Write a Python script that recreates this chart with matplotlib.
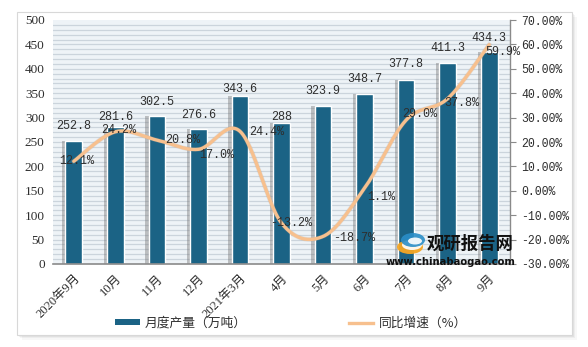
import numpy as np
import matplotlib
matplotlib.use("Agg")
import matplotlib.pyplot as plt
from matplotlib.patches import Rectangle, Wedge, Ellipse
from matplotlib.lines import Line2D
from matplotlib.patches import Patch

# ---- data ----
categories = ["2020年9月", "10月", "11月", "12月", "2021年3月", "4月", "5月", "6月", "7月", "8月", "9月"]
output_wt = [252.8, 281.6, 302.5, 276.6, 343.6, 288, 323.9, 348.7, 377.8, 411.3, 434.3]
growth_pct = [12.1, 24.2, 20.8, 17.0, 24.4, -13.2, -18.7, 1.1, 29.0, 37.8, 59.9]
bar_name = "月度产量（万吨）"
line_name = "同比增速（%）"

# ---- style ----
BAR_C = "#1b6385"
LINE_C = "#f7c08e"
TXT_C = "#2e2e2e"
SERIF = ["Liberation Serif", "Noto Sans CJK SC"]
MONO = ["Liberation Mono", "Noto Sans CJK SC"]
CJK = ["Noto Sans CJK SC", "DejaVu Sans"]
bar_lab_dy = [14.6, 10, 14, 14, 7, 6.5, 15, 15, 16, 15, 14]
pct_lab_off = [(3, 0), (3, 2), (26, 0), (18, -6), (27, -1), (10, 0), (31, -2), (17, -9), (14, 6), (14, -4), (14, -7)]

W, H = 588, 347
fig = plt.figure(figsize=(W / 100, H / 100), dpi=100)
fig.patch.set_facecolor("white")

# outer framed panel with shadow
for i, a in enumerate([0.06, 0.08, 0.10]):
    d = (3 - i) * 1.5
    fig.patches.append(Rectangle(((17 + d) / W, 1 - (335 + d) / H), 555 / W, 323 / H,
                                 transform=fig.transFigure, facecolor="#808080", alpha=a,
                                 edgecolor="none", zorder=0))
fig.patches.append(Rectangle((17 / W, 1 - 335 / H), 555 / W, 323 / H, transform=fig.transFigure,
                             facecolor="white", edgecolor="#d8d8d8", lw=0.8, zorder=0))

ax = fig.add_axes([53 / W, 1 - 264 / H, (510 - 53) / W, (264 - 20) / H])
ax.set_facecolor("#eef3f7")
ax.set_zorder(1)

x = np.arange(len(categories))
ax.set_xlim(-0.5, len(categories) - 0.5)
ax.set_ylim(0, 500)

# dense horizontal stripe gridlines
for yv in np.arange(10, 500, 10):
    ax.axhline(yv, color="#cbd4dc", lw=0.9, zorder=0.5)

# bar shadows
ax.bar(x - 0.07, output_wt, width=0.42, color="#6f6f6f", alpha=0.4, edgecolor="none", zorder=1)
bars = ax.bar(x, output_wt, width=0.40, color=BAR_C, edgecolor="white", linewidth=1.0, zorder=2)

for xi, v, dy in zip(x, output_wt, bar_lab_dy):
    lab = f"{v:g}"
    ax.annotate(lab, (xi, v), xytext=(0, dy), textcoords="offset pixels",
                ha="center", va="center", fontsize=8.5, family=MONO, color=TXT_C, zorder=5)

for s in ["top", "left", "right"]:
    ax.spines[s].set_visible(False)
ax.spines["bottom"].set_color("#8a8a8a")
ax.spines["bottom"].set_linewidth(1.2)
ax.set_yticks(np.arange(0, 501, 50))
ax.tick_params(axis="y", length=0, labelsize=9.5, labelcolor=TXT_C, pad=6)
for t in ax.get_yticklabels():
    t.set_family(SERIF)
ax.set_xticks(x)
ax.set_xticklabels(categories, rotation=45, ha="right", rotation_mode="anchor",
                   fontsize=9, color=TXT_C, family=SERIF)
ax.tick_params(axis="x", length=0, pad=6)

# secondary axis with smoothed line
ax2 = ax.twinx()
ax2.set_ylim(-30, 70)
ax2.set_yticks(np.arange(-30, 71, 10))
ax2.set_yticklabels([f"{v:.2f}%" for v in np.arange(-30, 71, 10)], family=MONO, fontsize=8.3, color=TXT_C)
ax2.tick_params(axis="y", length=4, color="#8a8a8a", pad=4)
for s in ["top", "left", "bottom"]:
    ax2.spines[s].set_visible(False)
ax2.spines["right"].set_color("#8a8a8a")
ax2.spines["right"].set_linewidth(1.0)


def catmull_rom(px, py, n=30):
    px = np.asarray(px, float)
    py = np.asarray(py, float)
    P = np.column_stack([px, py])
    P = np.vstack([P[0], P, P[-1]])
    out = []
    for i in range(1, len(P) - 2):
        p0, p1, p2, p3 = P[i - 1], P[i], P[i + 1], P[i + 2]
        c1 = p1 + (p2 - p0) / 6
        c2 = p2 - (p3 - p1) / 6
        t = np.linspace(0, 1, n)[:, None]
        seg = (1 - t) ** 3 * p1 + 3 * (1 - t) ** 2 * t * c1 + 3 * (1 - t) * t ** 2 * c2 + t ** 3 * p2
        out.append(seg if i == 1 else seg[1:])
    out = np.vstack(out)
    return out[:, 0], out[:, 1]


sx, sy = catmull_rom(x, growth_pct)
ax2.plot(sx, sy, color="#b0a090", lw=3.2, alpha=0.25, zorder=3)
ax2.plot(sx, sy, color=LINE_C, lw=2.4, zorder=4, solid_capstyle="round")

for xi, v, (dx, dy) in zip(x, growth_pct, pct_lab_off):
    ax2.annotate(f"{v:.1f}%", (xi, v), xytext=(dx, dy), textcoords="offset pixels",
                 ha="center", va="center", fontsize=8.5, family=MONO, color=TXT_C, zorder=6)

# watermark logo + text
aspect = W / H
lx, ly = 410 / W, 1 - 244 / H
fig.patches.append(Ellipse((lx, ly - 3 / H), 26 / W, 14 / H, transform=fig.transFigure,
                           facecolor="#f5a623", edgecolor="none", zorder=9, alpha=0.95))
fig.patches.append(Ellipse((lx + 2 / W, ly - 1 / H), 20 / W, 10 / H, transform=fig.transFigure,
                           facecolor="white", edgecolor="none", zorder=9.1, alpha=0.9))
fig.patches.append(Ellipse((lx + 3 / W, ly + 4 / H), 24 / W, 14 / H, transform=fig.transFigure,
                           facecolor="#2a8ec8", edgecolor="none", zorder=9.2, alpha=0.9))
fig.patches.append(Ellipse((lx + 5 / W, ly + 3 / H), 14 / W, 7 / H, transform=fig.transFigure,
                           facecolor="white", edgecolor="none", zorder=9.3, alpha=0.9))
fig.text(427 / W, 1 - 244 / H, "观研报告网", fontsize=12.5, fontweight="bold", family=CJK,
         color="#111111", va="center", ha="left", zorder=10)
fig.text(451 / W, 1 - 262 / H, "www.chinabaogao.com", fontsize=7.2, fontweight="bold",
         family=["DejaVu Sans"], color="#111111", va="center", ha="center", zorder=10)

# legend
handles = [Patch(facecolor=BAR_C, edgecolor="none"),
           Line2D([0], [0], color=LINE_C, lw=2.4)]
leg = fig.legend(handles, [bar_name, line_name], loc="center", bbox_to_anchor=(291 / W, 1 - 323 / H),
                 ncol=2, frameon=False, prop={"family": CJK, "size": 9.2},
                 handlelength=1.9, handleheight=0.45, columnspacing=8.0, handletextpad=0.4)
for t in leg.get_texts():
    t.set_color(TXT_C)

fig.savefig("out.png", dpi=100, facecolor="white")
